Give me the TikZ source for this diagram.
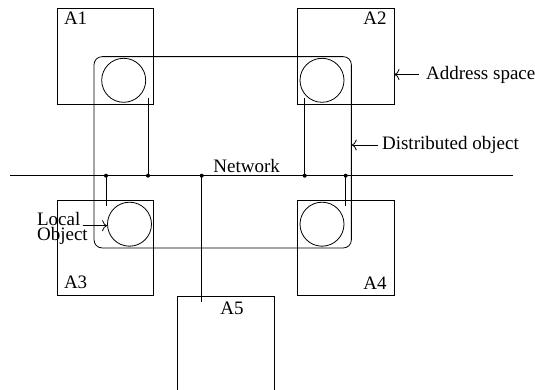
\documentclass[tikz,border=0pt]{standalone}
\usepackage{fontspec}
\setmainfont{Liberation Serif}
\usepackage{tikz}
\usetikzlibrary{arrows.meta}
\tikzset{
  addrspace/.style={draw, minimum width=96.4pt, minimum height=95.7pt, inner sep=0pt},
  obj/.style={draw, circle, minimum size=44pt, inner sep=0pt},
  tag/.style={inner sep=0pt, font=\fontsize{19}{14.3}\selectfont},
  pointer/.style={-{To[length=5pt,width=11pt]}},
  junction/.style={circle, fill, inner sep=0pt, minimum size=4pt}
}

\begin{document}
\begin{tikzpicture}[x=1pt, y=-1pt, line width=0.8pt]
                \useasboundingbox (0,0) rectangle (535,390);

                % Address spaces
                \node[addrspace] (A1) at (105.5,56.2) {};
                \node[addrspace] (A2) at (345.8,56.2) {};
                \node[addrspace] (A3) at (105.5,248) {};
                \node[addrspace] (A4) at (345.8,248) {};
                \draw (177.7,390) |- (274,296) -- (274,390); % A5, open at the bottom

                \node[tag, anchor=north west, xshift=6.7pt, yshift=-4pt] at (A1.north west) {A1};
                \node[tag, anchor=north east, xshift=-7.3pt, yshift=-4pt] at (A2.north east) {A2};
                \node[tag, anchor=south west, xshift=6.7pt, yshift=6.7pt] at (A3.south west) {A3};
                \node[tag, anchor=south east, xshift=-7.3pt, yshift=6.7pt] at (A4.south east) {A4};
                \node[tag] (a5) at (232,308.7) {A5};

                % Local objects
                \node[obj] (C1) at (123.7,80.3) {};
                \node[obj] (C2) at (322,80.3) {};
                \node[obj] (C3) at (129.5,224.2) {};
                \node[obj] (C4) at (322,224.2) {};

                % Distributed object
                \node[draw, rounded corners=8pt, minimum width=257.3pt, minimum height=191.3pt] (dist) at (222.7,152.3) {};

                % Network
                \coordinate (netL) at (10,175.7);
                \coordinate (netR) at (513,175.7);
                \draw (netL) -- (netR);
                \node[tag, anchor=base] at (246.7,172.7) {Network};

                % Taps from the network into the address spaces
                \foreach \n/\x/\y in {1/106/205.7, 2/148/98.3, 3/201.7/302, 4/304.7/98.3, 5/345.7/205.7}
                {
                    \node[junction] (tap\n) at (\x,175.7) {};
                    \coordinate (end\n) at (\x,\y);
                    \draw (tap\n.center) -- (end\n);
                }

                % Pointers
                \node[tag, anchor=west] (addr) at (425.7,74.5) {Address space};
                \draw[pointer, shorten <=7pt] (addr.west) -- (A2.east |- addr.west);
                \node[tag, anchor=west] (dlabel) at (381.7,145) {Distributed object};
                \draw[pointer, shorten <=3.5pt] (dlabel.west) -- (dist.east |- dlabel.west);
                \node[tag, anchor=base west] (local) at (36.7,225.7) {Local};
                \node[tag, anchor=base west] (object) at (36.7,240) {Object};
                \draw[pointer, shorten <=2pt] (local.base east) -- (C3.west |- local.base east);
            \end{tikzpicture}
\end{document}
